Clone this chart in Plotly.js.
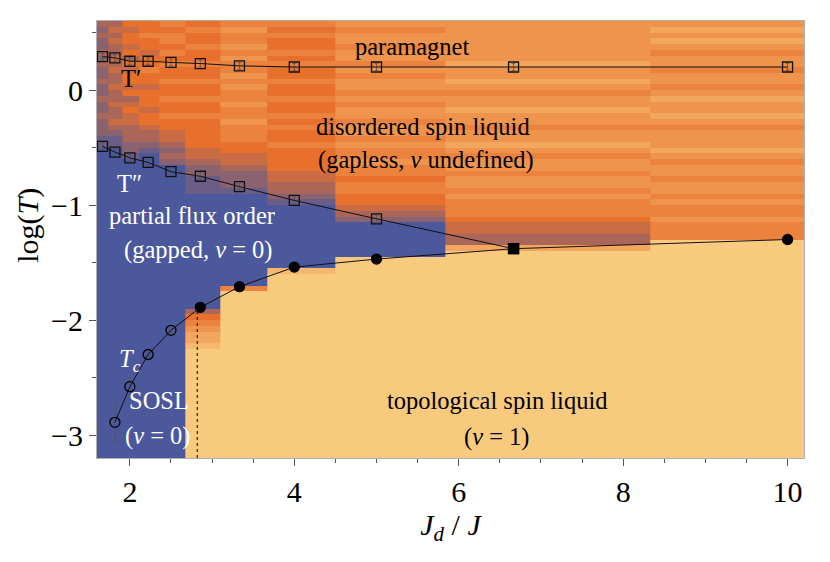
<!DOCTYPE html>
<html>
<head>
<meta charset="utf-8">
<script src="https://cdn.plot.ly/plotly-3.0.1.min.js"></script>
<style>html,body{margin:0;padding:0;background:#fff;}#chart{width:830px;height:562px;}</style>
</head>
<body>
<div id="chart"></div>
<script>
// Sample points J_d / J
const jd = [1.667, 1.818, 2.0, 2.222, 2.5, 2.857, 3.333, 4.0, 5.0, 6.667, 10.0];

// Phase-map columns (top -> bottom, rows of 0.05 in log T from 0.6 down to -3.2)
// 0 = gapped (nu = 0), 5 = disordered, 10 = topological (nu = 1)
const p1 = [3,2,3,2,2,3,2,3,2,2, 3,2,2,3,2,2,3,2,2,2, 1,1,0,0,0,0,0,0,0,0,
  0,0,0,0,0,0,0,0,0,0, 0,0,0,0,0,0,0,0,0,0, 0,0,0,0,0,0,0,0,0,0, 0,0,0,0,0,0,0,0,0,0, 0,0,0,0,0,0];
const p2 = [3,4,3,4,3,3,4,3,4,3, 3,4,3,3,4,3,3,4,3,2, 1,1,0,0,0,0,0,0,0,0,
  0,0,0,0,0,0,0,0,0,0, 0,0,0,0,0,0,0,0,0,0, 0,0,0,0,0,0,0,0,0,0, 0,0,0,0,0,0,0,0,0,0, 0,0,0,0,0,0];
const p3 = [5,4,5,5,4,5,3,5,4,5, 5,4,5,3,4,5,4,4,3,3, 3,2,2,1,0,0,0,0,0,0,
  0,0,0,0,0,0,0,0,0,0, 0,0,0,0,0,0,0,0,0,0, 0,0,0,0,0,0,0,0,0,0, 0,0,0,0,0,0,0,0,0,0, 0,0,0,0,0,0];
const p4 = [5,5,6,5,5,4,5,5,6,5, 5,4,5,5,5,4,5,5,4,3, 3,2,1,0,0,0,0,0,0,0,
  0,0,0,0,0,0,0,0,0,0, 0,0,0,0,0,0,0,0,0,0, 0,0,0,0,0,0,0,0,0,0, 0,0,0,0,0,0,0,0,0,0, 0,0,0,0,0,0];
const p5 = [6,5,6,6,5,6,5,6,5,5, 6,5,5,6,5,5,6,5,5,4, 4,3,2,3,2,0,0,0,0,0,
  0,0,0,0,0,0,0,0,0,0, 0,0,0,0,0,0,0,0,0,0, 0,0,0,0,0,0,0,0,0,0, 0,0,0,0,0,0,0,0,0,0, 0,0,0,0,0,0];
const p6 = [5,6,5,5,6,5,5,6,5,5, 6,5,5,6,5,5,6,5,5,5, 5,5,4,4,3,2,2,1,1,1,
  0,0,0,0,0,0,0,0,0,0, 0,0,0,0,0,0,0,0,0,0, 3,5,6,7,8,8,9,10,10,10, 10,10,10,10,10,10,10,10,10,10, 10,10,10,10,10,10];
const p7 = [6,7,6,6,7,6,7,6,6,7, 6,7,6,6,7,6,6,7,6,6, 6,5,5,4,4,3,2,2,2,1,
  0,0,0,0,0,0,0,0,0,0, 0,0,0,0,0,0,6,10,10,10, 10,10,10,10,10,10,10,10,10,10, 10,10,10,10,10,10,10,10,10,10, 10,10,10,10,10,10];
const p8 = [6,5,6,5,5,6,5,6,5,5, 6,5,5,6,5,5,6,5,6,5, 5,6,5,5,5,5,4,4,3,3,
  2,1,0,0,0,0,0,0,0,0, 0,0,0,9,10,10,10,10,10,10, 10,10,10,10,10,10,10,10,10,10, 10,10,10,10,10,10,10,10,10,10, 10,10,10,10,10,10];
const p9 = [7,6,7,7,6,7,7,6,7,6, 7,7,6,7,6,7,7,6,7,7, 6,7,6,6,7,6,6,5,6,6,
  5,5,4,3,2,0,0,0,0,0, 0,10,10,10,10,10,10,10,10,10, 10,10,10,10,10,10,10,10,10,10, 10,10,10,10,10,10,10,10,10,10, 10,10,10,10,10,10];
const p10 = [7,7,7,7,7,7,7,8,7,7, 8,7,6,7,7,8,7,7,6,7, 7,8,7,6,7,7,6,7,7,6,
  7,6,6,6,5,4,4,3,3,8, 10,10,10,10,10,10,10,10,10,10, 10,10,10,10,10,10,10,10,10,10, 10,10,10,10,10,10,10,10,10,10, 10,10,10,10,10,10];
const p11 = [7,8,7,8,7,6,7,7,6,7, 7,6,7,8,7,7,8,7,6,7, 7,7,8,7,6,7,7,6,7,7,
  6,7,6,6,7,6,6,6,10,10, 10,10,10,10,10,10,10,10,10,10, 10,10,10,10,10,10,10,10,10,10, 10,10,10,10,10,10,10,10,10,10, 10,10,10,10,10,10];

// T' crossover
const tpX = [1.667, 1.818, 2.0, 2.222, 2.5, 2.857, 3.333, 4.0, 5.0, 6.667, 10.0];
const tpY = [0.29, 0.28, 0.25, 0.25, 0.24, 0.23, 0.21, 0.20, 0.20, 0.20, 0.20];
const tpErr = [0.03, 0.03, 0.03, 0.03, 0.03, 0.03, 0.03, 0.03, 0.03, 0.03, 0.03];
// T'' crossover
const tppX = [1.667, 1.818, 2.0, 2.222, 2.5, 2.857, 3.333, 4.0, 5.0, 6.667];
const tppY = [-0.49, -0.54, -0.59, -0.63, -0.71, -0.75, -0.84, -0.96, -1.12, -1.38];
const tppErr = [0.03, 0.03, 0.03, 0.03, 0.03, 0.03, 0.03, 0.03, 0.03, 0.03];
// Tc
const tcX = [1.818, 2.0, 2.222, 2.5, 2.857, 3.333, 4.0, 5.0, 6.667, 10.0];
const tcY = [-2.89, -2.58, -2.30, -2.09, -1.89, -1.71, -1.54, -1.47, -1.38, -1.30];
const tcErr = [0.165, 0.08, 0.02, 0.02, 0.02, 0.02, 0.01, 0.01, 0.01, 0.01];
const tcSym = ['circle-open','circle-open','circle-open','circle-open','circle','circle','circle','circle','square','circle'];
// dotted marker line
const dotX = [2.82, 2.82];
const dotY = [-3.2, -1.93];

const cols = [p1,p2,p3,p4,p5,p6,p7,p8,p9,p10,p11];
const nRows = p1.length;
const z = [];
for (let i = 0; i < nRows; i++) {
  z.push(cols.map(c => c[nRows - 1 - i]));
}

const serif = 'Liberation Serif, serif';

const traces = [
  {type:'heatmap', x: jd, y0: -3.175, dy: 0.05, z: z, zmin: 0, zmax: 10,
   colorscale: [[0,'#4b589c'],[0.5,'#e8702d'],[1,'#f8ca7e']],
   showscale:false, zsmooth:false, hoverinfo:'skip'},
  {type:'scatter', mode:'lines', x: dotX, y: dotY, line:{color:'#222', width:1.2, dash:'dot'}, hoverinfo:'skip'},
  {type:'scatter', mode:'lines+markers', x: tpX, y: tpY,
   error_y:{type:'data', array: tpErr, color:'#555', thickness:0.8, width:2},
   line:{color:'#111', width:1}, marker:{symbol:'square-open', size:10, color:'#111', line:{width:1.3}}},
  {type:'scatter', mode:'lines+markers', x: tppX, y: tppY,
   error_y:{type:'data', array: tppErr, color:'#555', thickness:0.8, width:2},
   line:{color:'#111', width:1}, marker:{symbol:'square-open', size:10, color:'#111', line:{width:1.3}}},
  {type:'scatter', mode:'lines+markers', x: tcX, y: tcY,
   error_y:{type:'data', array: tcErr, color:'#555', thickness:0.8, width:2},
   line:{color:'#111', width:1}, marker:{symbol: tcSym, size:10, color:'#000', line:{width:1.3, color:'#000'}}}
];

function ann(text, x, y, color) {
  return {text: text, x: x, y: y, xref:'x', yref:'y', showarrow:false,
    font:{family: serif, size: 24.5, color: color}, xanchor:'center', yanchor:'middle'};
}

const layout = {
  width: 830, height: 562,
  margin: {l: 97, r: 26, t: 21, b: 104},
  paper_bgcolor:'#fff', plot_bgcolor:'#fff',
  showlegend:false,
  font:{family: serif, color:'#000'},
  xaxis: {range:[1.6, 10.2], tickvals:[2,4,6,8,10], ticks:'outside', ticklen:7, tickwidth:1, tickcolor:'#555',
    minor:{dtick:0.5, tick0:0, ticks:'outside', ticklen:4, tickcolor:'#555'},
    showline:true, linecolor:'#b0b0b0', linewidth:1, mirror:true, showgrid:false, zeroline:false,
    tickfont:{family: serif, size:30, color:'#000'},
    title:{text:'<i>J</i><sub><i>d</i></sub> / <i>J</i>', font:{family: serif, size:30, color:'#000'}, standoff:6}},
  yaxis: {range:[-3.2, 0.6], tickvals:[-3,-2,-1,0], ticks:'outside', ticklen:7, tickwidth:1, tickcolor:'#555',
    minor:{dtick:0.5, tick0:0, ticks:'outside', ticklen:4, tickcolor:'#555'},
    showline:true, linecolor:'#b0b0b0', linewidth:1, mirror:true, showgrid:false, zeroline:false,
    tickfont:{family: serif, size:30, color:'#000'}},
  annotations: [
    {text:'log(<i>T</i>)', xref:'paper', yref:'paper', x:-0.098, y:0.533, textangle:-90,
     showarrow:false, xanchor:'center', yanchor:'middle', font:{family: serif, size:30, color:'#000'}},
    ann('paramagnet', 5.43, 0.38, '#000'),
    ann('T′', 2.01, 0.10, '#000'),
    ann('disordered spin liquid', 5.57, -0.32, '#000'),
    ann('(gapless, <i>ν</i> undefined)', 5.60, -0.61, '#000'),
    ann('T″', 2.0, -0.81, '#fff'),
    ann('partial flux order', 2.75, -1.09, '#fff'),
    ann('(gapped, <i>ν</i> = 0)', 2.83, -1.39, '#fff'),
    ann('<i>T<sub>c</sub></i>', 2.0, -2.35, '#fff'),
    ann('SOSL', 2.35, -2.70, '#fff'),
    ann('(<i>ν</i> = 0)', 2.34, -3.01, '#fff'),
    ann('topological spin liquid', 6.47, -2.70, '#000'),
    ann('(<i>ν</i> = 1)', 6.47, -3.02, '#000')
  ]
};

Plotly.newPlot('chart', traces, layout, {displayModeBar:false, staticPlot:true});
</script>
</body>
</html>
